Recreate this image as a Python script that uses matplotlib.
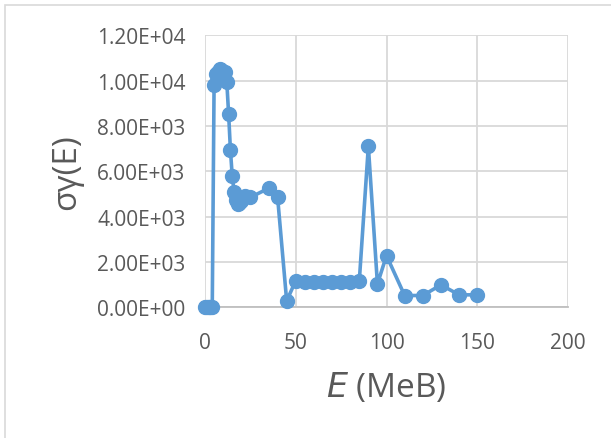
import matplotlib
matplotlib.use("Agg")
import matplotlib.pyplot as plt
from matplotlib.patches import Rectangle
from matplotlib.ticker import FuncFormatter

# photon cross-section vs energy
energy = [0, 1, 2, 3, 4, 5, 6, 7, 8, 9, 10, 11, 12, 13, 14, 15, 16, 17, 18, 19, 20,
          22, 25, 35, 40, 45, 50, 55, 60, 65, 70, 75, 80, 85, 90, 95, 100,
          110, 120, 130, 140, 150]
sigma = [0, 0, 0, 0, 0, 9800, 10300, 10400, 10500, 10450, 10400, 10400, 9950, 8550,
         6950, 5800, 5100, 4750, 4550, 4600, 4700, 4900, 4850, 5250, 4850, 280,
         1180, 1120, 1110, 1110, 1120, 1130, 1130, 1150, 7100, 1030, 2280,
         520, 520, 990, 550, 550]

xticks = [0, 50, 100, 150, 200]
yticks = [0, 2000, 4000, 6000, 8000, 10000, 12000]

blue = "#5B9BD5"
grid = "#D9D9D9"
text = "#595959"
font = "Open Sans"

fig = plt.figure(figsize=(6.11, 4.39), dpi=100)
fig.patches.append(Rectangle((5 / 611, -0.1), 1.2, 1 - 6 / 439 + 0.1,
                             transform=fig.transFigure, fill=False,
                             edgecolor=grid, linewidth=1.2))

ax = fig.add_axes([205 / 611, 1 - 308.3 / 439, 363 / 611, 272 / 439])
ax.plot(energy, sigma, color=blue, linewidth=2.6, marker="o", markersize=10,
        clip_on=False, zorder=3)

ax.set_xlim(0, 200)
ax.set_ylim(0, 12000)
ax.set_xticks(xticks)
ax.set_yticks(yticks)
ax.yaxis.set_major_formatter(FuncFormatter(lambda v, p: "%.2E" % v))
ax.grid(True, color=grid, linewidth=1.3)
ax.set_axisbelow(True)
for side in ["left", "right", "top"]:
    ax.spines[side].set_visible(False)
ax.spines["bottom"].set_color("#BFBFBF")
ax.spines["bottom"].set_linewidth(1.3)
ax.tick_params(length=0, labelsize=15, labelcolor=text)
ax.tick_params(axis="y", pad=14)
ax.tick_params(axis="x", pad=18)
for lab in ax.get_xticklabels() + ax.get_yticklabels():
    lab.set_family(font)

ax.set_ylabel("σγ(E)", fontsize=24, color=text, family=font, labelpad=10)
ax.set_xlabel(r"$\mathit{E}$ (MeB)", fontsize=24, color=text, family=font, labelpad=12)

fig.savefig("out.png", dpi=100)
